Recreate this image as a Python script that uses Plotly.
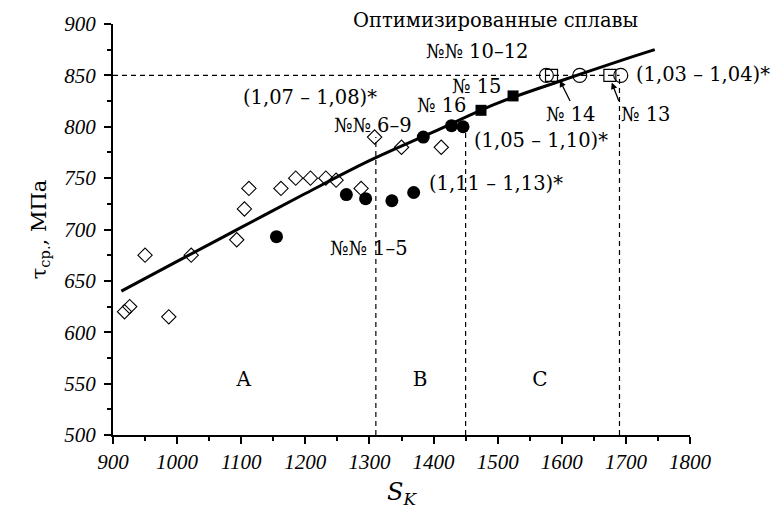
import plotly.graph_objects as go

# ---- data ----
diamond_x = [918, 926, 950, 987, 1022, 1093, 1105, 1112, 1162, 1185, 1208, 1232, 1248, 1287, 1308, 1350, 1412]
diamond_y = [620, 625, 675, 615, 675, 690, 720, 740, 740, 750, 750, 750, 748, 740, 790, 780, 780]

circle_x = [1155, 1264, 1294, 1335, 1369, 1384, 1428, 1446]
circle_y = [693, 734, 730, 728, 736, 790, 801, 800]

square_x = [1474, 1524]
square_y = [816, 830]

open_circle_x = [1576, 1628, 1692]
open_circle_y = [850, 850, 850]

open_square_x = [1584, 1675]
open_square_y = [850, 850]

fit_x = [913, 1000, 1100, 1200, 1300, 1400, 1500, 1600, 1700, 1745]
fit_y = [640, 669, 702, 735, 767, 795, 823, 845, 866, 875]

hline_x = [900, 1690]
hline_y = [850, 850]
vline_x = [1310, 1450, 1690]
vline_top = [790, 800, 850]

region_labels = ["A", "B", "C"]
region_x = [1104, 1379, 1566]
region_y = [553, 553, 553]

x_ticks = list(range(900, 1801, 100))
y_ticks = list(range(500, 901, 50))

X0, X1, Y0, Y1 = 900, 1800, 500, 900

SERIF = "DejaVu Serif"
TICKFONT = "Liberation Serif"
TXT = 19.5

fig = go.Figure()

# dashed guide lines
fig.add_trace(go.Scatter(x=hline_x, y=hline_y, mode="lines",
                         line=dict(color="black", width=1.2, dash="5px,4px"),
                         hoverinfo="skip"))
for vx, vt in zip(vline_x, vline_top):
    fig.add_trace(go.Scatter(x=[vx, vx], y=[Y0, vt], mode="lines",
                             line=dict(color="black", width=1.2, dash="5px,4px"),
                             hoverinfo="skip"))

# fit curve
fig.add_trace(go.Scatter(x=fit_x, y=fit_y, mode="lines",
                         line=dict(color="black", width=3, shape="spline"),
                         hoverinfo="skip"))

fig.add_trace(go.Scatter(x=diamond_x, y=diamond_y, mode="markers",
                         marker=dict(symbol="diamond-open", size=11,
                                     color="black", line=dict(width=1.1, color="#333"))))
fig.add_trace(go.Scatter(x=circle_x, y=circle_y, mode="markers",
                         marker=dict(symbol="circle", size=13, color="black")))
fig.add_trace(go.Scatter(x=square_x, y=square_y, mode="markers",
                         marker=dict(symbol="square", size=11, color="black")))
fig.add_trace(go.Scatter(x=open_circle_x, y=open_circle_y, mode="markers",
                         marker=dict(symbol="circle-open", size=14, color="black",
                                     line=dict(width=1.2))))
fig.add_trace(go.Scatter(x=open_square_x, y=open_square_y, mode="markers",
                         marker=dict(symbol="square-open", size=12, color="black",
                                     line=dict(width=1.2))))

# region labels
fig.add_trace(go.Scatter(x=region_x, y=region_y, mode="text", text=region_labels,
                         textfont=dict(family=SERIF, size=20, color="black"),
                         hoverinfo="skip"))

# text annotations inside the axes (data coordinates)
texts = [
    ("№№ 10–12", 1468, 873),
    ("№ 15", 1467, 839),
    ("№ 16", 1412, 821),
    ("№№ 6–9", 1305, 801),
    ("(1,07 – 1,08)*", 1207, 828),
    ("(1,05 – 1,10)*", 1567, 787),
    ("(1,11 – 1,13)*", 1497, 745),
    ("№№ 1–5", 1299, 682),
]
for t, x, y in texts:
    fig.add_annotation(x=x, y=y, text=t, showarrow=False, xref="x", yref="y",
                       xanchor="center", yanchor="middle",
                       font=dict(family=SERIF, size=TXT, color="black"))

# texts lying outside the axis ranges -> paper coordinates
outside = [
    ("Оптимизированные сплавы", 1497, 903),
    ("(1,03 – 1,04)*", 1821, 851),
]
for t, x, y in outside:
    fig.add_annotation(x=(x - X0) / (X1 - X0), y=(y - Y0) / (Y1 - Y0), text=t,
                       showarrow=False, xref="paper", yref="paper",
                       xanchor="center", yanchor="middle",
                       font=dict(family=SERIF, size=TXT, color="black"))

# labels with arrows (text box hangs below the arrow tail)
fig.add_annotation(x=1597, y=845, ax=1613, ay=825, axref="x", ayref="y",
                   text="№ 14", xanchor="center", yanchor="top",
                   showarrow=True, arrowhead=2, arrowsize=1, arrowwidth=1.3,
                   arrowcolor="black", font=dict(family=SERIF, size=TXT, color="black"))
fig.add_annotation(x=1678, y=843, ax=1689, ay=825, axref="x", ayref="y",
                   text="№ 13", xanchor="left", yanchor="top",
                   showarrow=True, arrowhead=2, arrowsize=1, arrowwidth=1.3,
                   arrowcolor="black", font=dict(family=SERIF, size=TXT, color="black"))

fig.update_layout(
    width=774, height=513,
    margin=dict(l=113, r=84, t=20, b=70),
    paper_bgcolor="white", plot_bgcolor="white",
    showlegend=False,
    font=dict(family=SERIF, color="black"),
)
fig.update_xaxes(
    range=[X0, X1], tickvals=x_ticks, showgrid=False, zeroline=False,
    showline=True, linecolor="black", linewidth=2,
    ticks="outside", ticklen=7, tickwidth=1.5, tickcolor="black",
    minor=dict(dtick=50, ticks="outside", ticklen=4, tickwidth=1.5, tickcolor="black"),
    tickfont=dict(family=TICKFONT, size=21, style="italic", color="black"),
    title=dict(text="<i>S</i><sub><i>K</i></sub>", font=dict(family=SERIF, size=24), standoff=10),
)
fig.update_yaxes(
    range=[Y0, Y1], tickvals=y_ticks, showgrid=False, zeroline=False,
    showline=True, linecolor="black", linewidth=2,
    ticks="outside", ticklen=7, tickwidth=1.5, tickcolor="black",
    minor=dict(dtick=25, ticks="outside", ticklen=4, tickwidth=1.5, tickcolor="black"),
    tickfont=dict(family=TICKFONT, size=21, style="italic", color="black"),
    ticklabelstandoff=4,
    title=dict(text="τ<sub>ср.</sub>, МПа", font=dict(family=SERIF, size=21), standoff=12),
)

fig.write_html("out.html")
